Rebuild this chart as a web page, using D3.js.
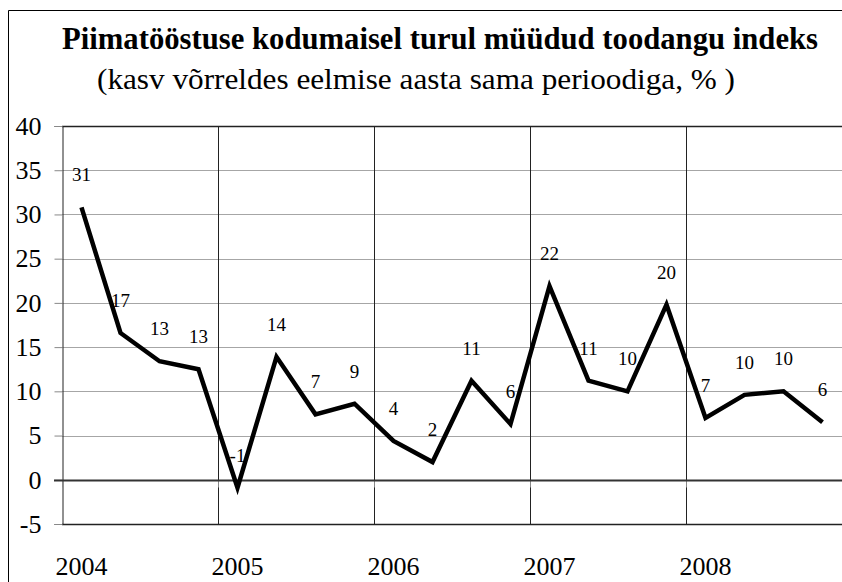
<!DOCTYPE html>
<html>
<head>
<meta charset="utf-8">
<script src="https://cdn.jsdelivr.net/npm/d3@7"></script>
<style>
  html, body { margin: 0; padding: 0; background: #fff; }
  text { font-family: "Liberation Serif", "Times New Roman", serif; }
</style>
</head>
<body>
<script>
// chart data
var years = ["2004", "2005", "2006", "2007", "2008"];
var quarters = ["I", "II", "III", "IV"];
var values = [30.8, 16.6, 13.4, 12.5, -0.9, 13.9, 7.4, 8.6, 4.4, 2.0,
              11.2, 6.3, 21.9, 11.2, 10.0, 19.8, 7.0, 9.6, 10.0, 6.5];
var labels = ["31", "17", "13", "13", "-1", "14", "7", "9", "4", "2",
              "11", "6", "22", "11", "10", "20", "7", "10", "10", "6"];
var yTicks = [-5, 0, 5, 10, 15, 20, 25, 30, 35, 40];

var title = "Piimatööstuse kodumaisel turul müüdud toodangu indeks";
var subtitle = "(kasv võrreldes eelmise aasta sama perioodiga, % )";

var categories = [];
years.forEach(function (yr) {
    quarters.forEach(function (q) { categories.push(yr + " " + q); });
});

var width = 842, height = 582;
var svg = d3.select("body")
    .append("svg")
    .attr("width", width)
    .attr("height", height)
    .style("display", "block");

// outer frame (only left and top edges are inside the picture)
svg.append("path")
    .attr("d", "M8.5,582 V10.5 H842")
    .attr("fill", "none")
    .attr("stroke", "#000")
    .attr("stroke-width", 1);

svg.append("text")
    .attr("x", 440).attr("y", 49)
    .attr("text-anchor", "middle")
    .attr("font-weight", "bold")
    .style("font-size", "31px")
    .attr("textLength", 756)
    .attr("lengthAdjust", "spacingAndGlyphs")
    .text(title);

svg.append("text")
    .attr("x", 416).attr("y", 89)
    .attr("text-anchor", "middle")
    .style("font-size", "30px")
    .attr("textLength", 638)
    .attr("lengthAdjust", "spacingAndGlyphs")
    .text(subtitle);

var x = d3.scaleBand()
    .domain(categories)
    .range([62, 842]);

var y = d3.scaleLinear()
    .domain([-5, 40])
    .range([524, 126]);

var g = svg.append("g");

// horizontal gridlines
g.selectAll(".grid")
    .data(yTicks.filter(function (d) { return d !== 0 && d !== -5 && d !== 40; }))
    .enter().append("line")
    .attr("x1", 62).attr("x2", 842)
    .attr("y1", function (d) { return Math.round(y(d)) + 0.5; })
    .attr("y2", function (d) { return Math.round(y(d)) + 0.5; })
    .attr("stroke", "#a6a6a6")
    .attr("stroke-width", 1);

// year separators
g.selectAll(".sep")
    .data(years.slice(1))
    .enter().append("line")
    .attr("x1", function (d) { return Math.round(x(d + " I")) + 0.5; })
    .attr("x2", function (d) { return Math.round(x(d + " I")) + 0.5; })
    .attr("y1", 126).attr("y2", 524)
    .attr("stroke", "#222")
    .attr("stroke-width", 1);

// top and bottom borders of plot
[40, -5].forEach(function (v) {
    g.append("line")
        .attr("x1", 62).attr("x2", 842)
        .attr("y1", Math.round(y(v)) + 0.5).attr("y2", Math.round(y(v)) + 0.5)
        .attr("stroke", "#222")
        .attr("stroke-width", 1.5);
});

// y axis
var yAxis = g.append("g")
    .attr("transform", "translate(62.5,0)")
    .call(d3.axisLeft(y)
        .tickValues(yTicks)
        .tickFormat(function (d) { return String(d); })
        .tickSize(8)
        .tickPadding(13));
yAxis.attr("font-family", null).attr("font-size", null);
yAxis.select(".domain").attr("stroke", "#222");
yAxis.selectAll(".tick line").attr("stroke", "#888");
yAxis.selectAll("text")
    .style("font-size", "26px")
    .attr("fill", "#000");

// category axis at zero
var y0 = Math.round(y(0)) + 0.5;
g.selectAll(".ctick")
    .data(years)
    .enter().append("line")
    .attr("x1", function (d) { return Math.round(x(d + " I")) + 0.5; })
    .attr("x2", function (d) { return Math.round(x(d + " I")) + 0.5; })
    .attr("y1", y0).attr("y2", y0 + 7)
    .attr("stroke", "#888");
g.append("line")
    .attr("x1", 54).attr("x2", 842)
    .attr("y1", y0).attr("y2", y0)
    .attr("stroke", "#333")
    .attr("stroke-width", 2);

// year labels
g.selectAll(".ylab")
    .data(years)
    .enter().append("text")
    .attr("x", function (d) { return x(d + " I") + x.bandwidth() / 2; })
    .attr("y", 575)
    .attr("text-anchor", "middle")
    .style("font-size", "26px")
    .text(function (d) { return d; });

// line
var line = d3.line()
    .x(function (d, i) { return x(categories[i]) + x.bandwidth() / 2; })
    .y(function (d) { return y(d); });

g.append("path")
    .datum(values)
    .attr("d", line)
    .attr("fill", "none")
    .attr("stroke", "#000")
    .attr("stroke-width", 4.5)
    .attr("stroke-linejoin", "miter");

// data labels
g.selectAll(".dlab")
    .data(values)
    .enter().append("text")
    .attr("x", function (d, i) { return x(categories[i]) + x.bandwidth() / 2; })
    .attr("y", function (d) { return y(d) - 26; })
    .attr("text-anchor", "middle")
    .style("font-size", "19px")
    .text(function (d, i) { return labels[i]; });
</script>
</body>
</html>
